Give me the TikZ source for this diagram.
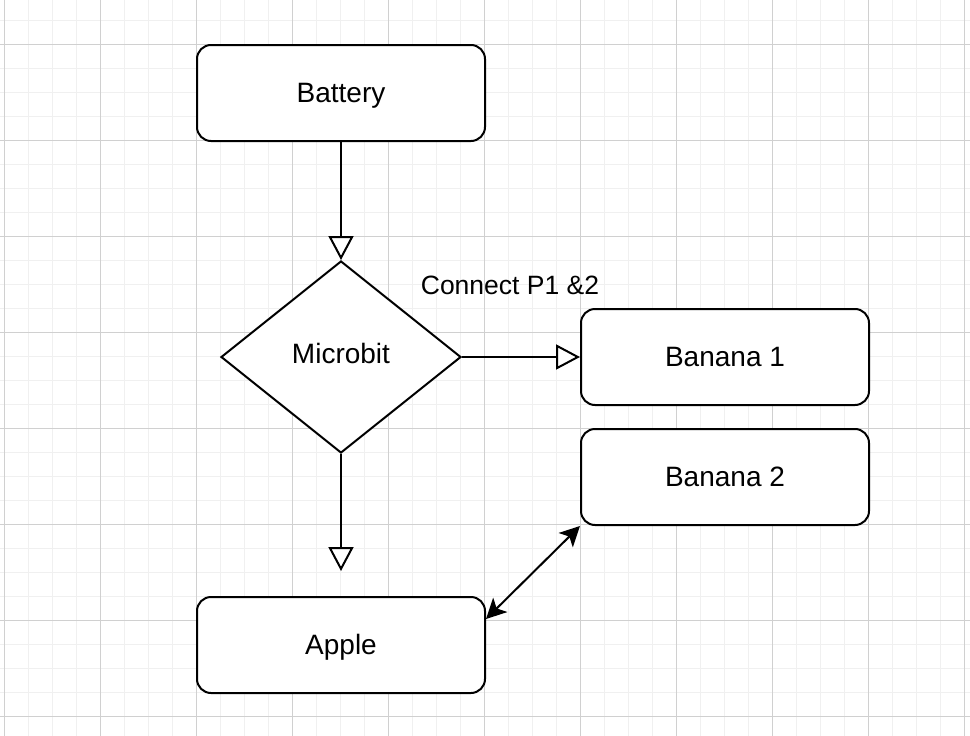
\documentclass[tikz,border=0pt]{standalone}
\usepackage{fontspec}
\setmainfont{Liberation Sans}
\usetikzlibrary{shapes.geometric,arrows.meta}
\definecolor{minorgrid}{HTML}{F0F0F0}
\definecolor{majorgrid}{HTML}{D0D0D0}
\tikzset{
  box/.style={draw, line width=2pt, rounded corners=14pt, minimum width=288pt, minimum height=96pt, inner sep=0pt, text height=20pt, text depth=2pt, font=\fontsize{28}{32}\selectfont},
  decision/.style={draw, diamond, line width=2pt, minimum width=240pt, minimum height=192pt, inner sep=0pt, text height=20pt, text depth=8pt, font=\fontsize{28}{32}\selectfont},
  flow/.style={line width=2pt, -{Triangle[fill=white, length=24pt, width=25pt, line width=2pt]}},
  link/.style={line width=2pt, {Stealth[length=20pt, width=20pt, inset=5pt]}-{Stealth[length=20pt, width=20pt, inset=5pt]}},
  lbl/.style={font=\fontsize{26.5}{32}\selectfont, inner sep=0pt}
}
\begin{document}
\begin{tikzpicture}[x=1pt,y=-1pt]
\useasboundingbox (0,0) rectangle (970,736);
\fill[white] (0,0) rectangle (970,736);
% grid
\foreach \i in {0,...,40} {
  \draw[minorgrid, line width=1pt] ({4+24*\i},0) -- ({4+24*\i},736);
}
\foreach \j in {0,...,30} {
  \draw[minorgrid, line width=1pt] (0,{20+24*\j}) -- (970,{20+24*\j});
}
\foreach \i in {0,...,10} {
  \draw[majorgrid, line width=1pt] ({4+96*\i},0) -- ({4+96*\i},736);
}
\foreach \j in {0,...,7} {
  \draw[majorgrid, line width=1pt] (0,{44+96*\j}) -- (970,{44+96*\j});
}
% nodes
\node[box, fill=white] (battery) at (341,93) {Battery};
\node[decision, fill=white] (micro) at (341,357) {Microbit};
\node[box, fill=white] (banana1) at (725,357) {Banana 1};
\node[box, fill=white] (banana2) at (725,477) {Banana 2};
\node[box, fill=white] (apple) at (341,645) {Apple};
\node[lbl] (conn) at (510,285) {Connect P1 \&2};
% connectors
\draw[flow] (battery.south) -- (micro.north);
\draw[flow] (micro.east) -- (banana1.west);
\draw[flow, shorten >=25pt] (micro.south) -- (apple.north);
\draw[link] ([shift={(0pt,-23pt)}]apple.north east) -- (banana2.south west);
\end{tikzpicture}
\end{document}
